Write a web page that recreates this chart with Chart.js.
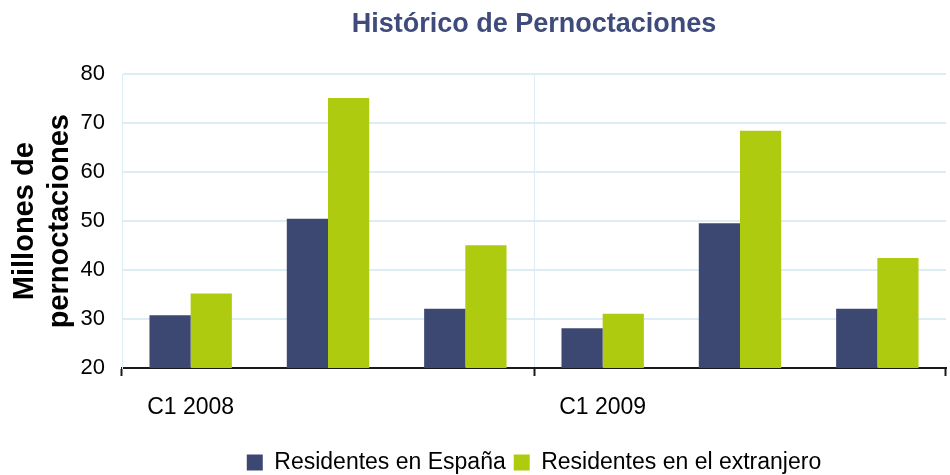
<!DOCTYPE html>
<html>
<head>
<meta charset="utf-8">
<title>Histórico de Pernoctaciones</title>
<script src="https://cdn.jsdelivr.net/npm/chart.js@4.4.1/dist/chart.umd.min.js"></script>
<style>
    html, body { margin: 0; padding: 0; background: #ffffff; }
    #wrap { width: 950px; height: 475px; }
</style>
</head>
<body>
<div id="wrap"><canvas id="pernoctacionesChart"></canvas></div>
<script>
// datos (millones de pernoctaciones, por cuatrimestre)
const categorias = ['C1 2008', 'C2 2008', 'C3 2008', 'C1 2009', 'C2 2009', 'C3 2009'];
const etiquetasX = ['C1 2008', '', '', 'C1 2009', '', ''];
const residentesEspana = [30.8, 50.5, 32.1, 28.1, 49.6, 32.1];
const residentesExtranjero = [35.2, 75.2, 45.1, 31.1, 68.5, 42.5];
const ticksY = [20, 30, 40, 50, 60, 70, 80];

const azul = '#3C4872';
const verde = '#AECB10';
const gridAzul = '#DCEDF6';
const fuente = "'Liberation Sans', Arial, sans-serif";

const ctx = document.getElementById('pernoctacionesChart').getContext('2d');
const chart = new Chart(ctx, {
    type: 'bar',
    data: {
        labels: categorias,
        datasets: [{
            label: 'Residentes en España',
            data: residentesEspana,
            backgroundColor: azul,
            borderWidth: 0
        }, {
            label: 'Residentes en el extranjero',
            data: residentesExtranjero,
            backgroundColor: verde,
            borderWidth: 0
        }]
    },
    options: {
        responsive: true,
        maintainAspectRatio: false,
        animation: false,
        layout: {
            padding: { left: 0, right: 4, top: 0, bottom: -9 }
        },
        datasets: {
            bar: {
                categoryPercentage: 0.6,
                barPercentage: 1.0
            }
        },
        plugins: {
            title: {
                display: true,
                text: 'Histórico de Pernoctaciones',
                fullSize: false,
                color: '#3F4B7C',
                font: { family: fuente, size: 27, weight: 'bold' },
                padding: { top: 8, bottom: 34 }
            },
            legend: {
                display: true,
                position: 'bottom',
                fullSize: false,
                labels: {
                    color: '#000000',
                    boxWidth: 16,
                    boxHeight: 16,
                    padding: 8,
                    font: { family: fuente, size: 23 }
                }
            },
            tooltip: { enabled: false }
        },
        scales: {
            x: {
                afterFit: function(scale) {
                    scale.height = 75;
                },
                border: { display: true, color: '#1A1A1A', width: 2 },
                grid: {
                    drawOnChartArea: true,
                    drawTicks: true,
                    tickLength: 8,
                    tickWidth: 2,
                    lineWidth: 1,
                    color: (c) => (c.index === 3 ? gridAzul : 'rgba(0,0,0,0)'),
                    tickColor: (c) => (c.index === undefined || c.index % 3 === 0 ? '#1A1A1A' : 'rgba(0,0,0,0)')
                },
                ticks: {
                    autoSkip: false,
                    maxRotation: 0,
                    padding: 18,
                    color: '#000000',
                    font: { family: fuente, size: 23 },
                    callback: (v, i) => etiquetasX[i]
                }
            },
            y: {
                min: ticksY[0],
                max: ticksY[ticksY.length - 1],
                afterFit: function(scale) {
                    scale.width = 122;
                },
                afterBuildTicks: function(scale) {
                    scale.ticks = ticksY.map(v => ({ value: v }));
                },
                border: { display: true, color: gridAzul, width: 1 },
                grid: {
                    drawTicks: false,
                    lineWidth: 2,
                    color: (c) => (c.tick && c.tick.value === ticksY[0] ? 'rgba(0,0,0,0)' : gridAzul)
                },
                ticks: {
                    padding: 17,
                    color: '#000000',
                    font: { family: fuente, size: 22 }
                },
                title: {
                    display: true,
                    text: ['Millones de', 'pernoctaciones'],
                    color: '#000000',
                    font: { family: fuente, size: 29, weight: 'bold', lineHeight: 1.2 },
                    padding: { top: 8, bottom: 0 }
                }
            }
        }
    }
});
</script>
</body>
</html>
